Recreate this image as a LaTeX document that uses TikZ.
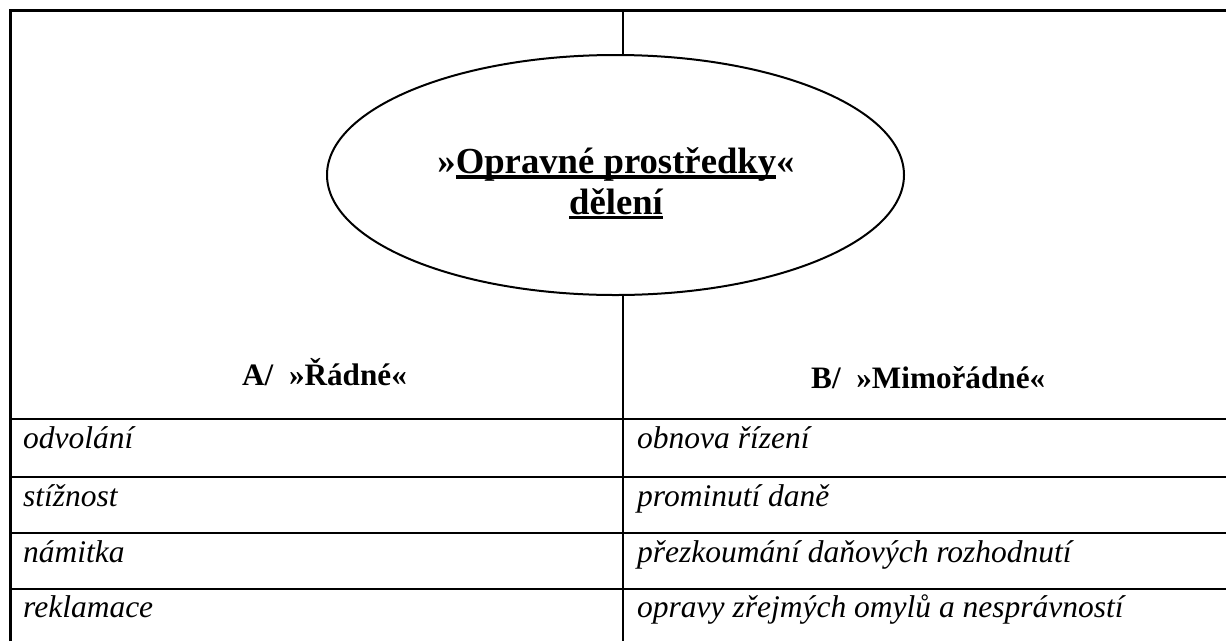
\documentclass[tikz,border=0pt]{standalone}
\usepackage{fontspec}
\setmainfont{Liberation Serif}
\usetikzlibrary{shapes.geometric}
\newsavebox{\ulbox}
\newcommand{\myul}[1]{\sbox{\ulbox}{#1}\rlap{\rule[-5pt]{\wd\ulbox}{3.2pt}}\usebox{\ulbox}}
\tikzset{
  frame/.style={line width=3pt},
  rowline/.style={line width=2.8pt},
  divider/.style={line width=2.6pt},
  oval/.style={draw, ellipse, line width=2pt, inner sep=0pt, minimum width=577pt, minimum height=240pt},
  item/.style={inner sep=0pt, anchor=base west, font=\fontsize{31.5}{36}\selectfont\itshape},
  head/.style={inner sep=0pt, anchor=base west, font=\fontsize{31.2}{36}\selectfont\bfseries},
  titletext/.style={inner sep=0pt, anchor=base, align=center, font=\fontsize{36.7}{40.5}\selectfont\bfseries}
}
\begin{document}
\begin{tikzpicture}[x=1pt, y=-1pt]
\useasboundingbox[fill=white] (0,0) rectangle (1226,641);
% outer frame (left and top)
\coordinate (bl) at (10,641);
\coordinate (tl) at (10,10);
\coordinate (tr) at (1226,10);
\draw[frame] (bl) -- (tl) -- (tr);
% ellipse and title
\node[oval] (title) at (615.5,175) {};
\node[titletext] (ttext) at (616,214) {»\myul{Opravné prostředky}«\\\myul{dělení}};
% divider
\coordinate (dtop) at (623,10);
\coordinate (dbot) at (623,641);
\draw[divider] (dtop) -- (dtop |- title.north);
\draw[divider] (dtop |- title.south) -- (dbot);
% row lines
\foreach \y/\n in {419/r1, 477/r2, 533/r3, 589/r4} {
  \coordinate (\n l) at (10,\y);
  \coordinate (\n r) at (1226,\y);
  \draw[rowline] (\n l) -- (\n r);
}
% headers
\node[head] (ha) at (242,385) {A/~~»Řádné«};
\node[head] (hb) at (811,388) {B/~~»Mimořádné«};
% left items
\node[item] (a1) at (23,448) {odvolání};
\node[item] (a2) at (23,506) {stížnost};
\node[item] (a3) at (23,562) {námitka};
\node[item] (a4) at (23,617) {reklamace};
% right items
\node[item] (b1) at (637,448) {obnova řízení};
\node[item] (b2) at (637,506) {prominutí daně};
\node[item] (b3) at (637,562) {přezkoumání daňových rozhodnutí};
\node[item] (b4) at (637,617) {opravy zřejmých omylů a nesprávností};
\end{tikzpicture}
\end{document}
